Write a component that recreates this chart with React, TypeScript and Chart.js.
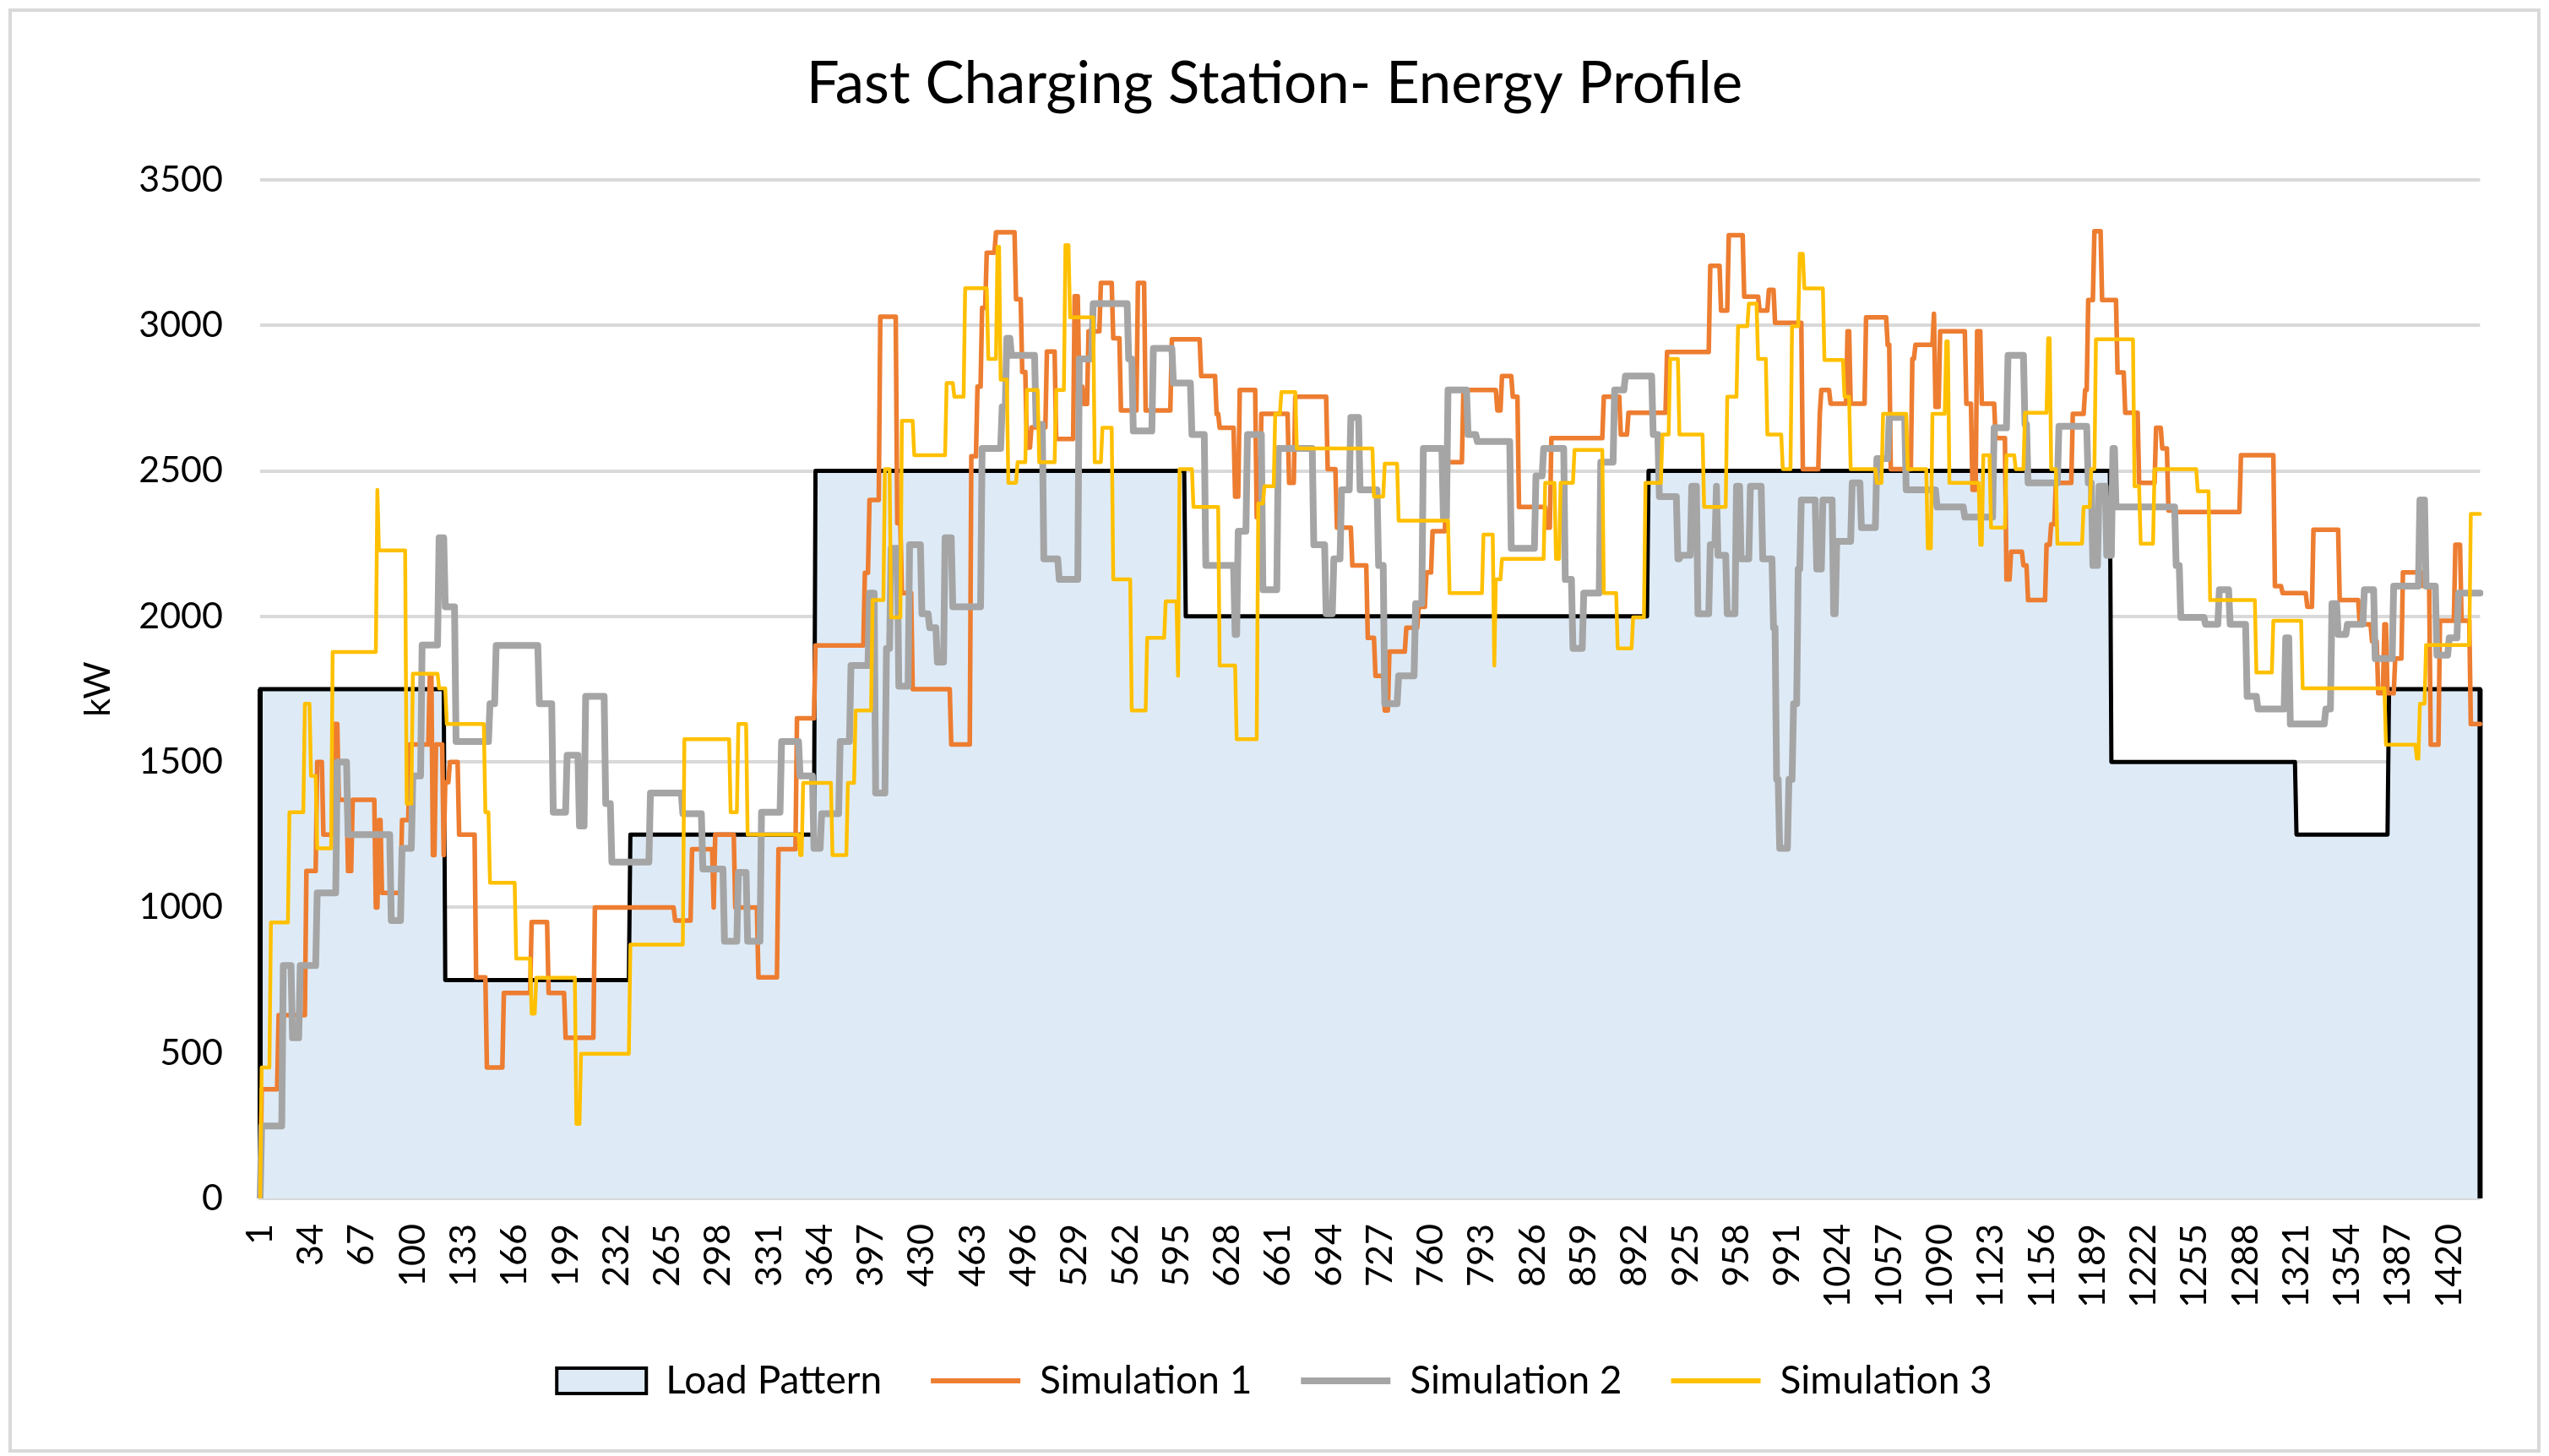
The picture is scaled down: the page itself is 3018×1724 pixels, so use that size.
import { useEffect, useRef } from "react";
import { Chart, registerables } from "chart.js";

Chart.register(...registerables);

const MINUTES = 1440;
const categories: string[] = Array.from({ length: MINUTES }, (_, i) => String(i + 1));
const tickEvery = 33;
const yTicks = { min: 0, max: 3500, step: 500 };

const seriesNames = ["Load Pattern", "Simulation 1", "Simulation 2", "Simulation 3"];

// Each entry: [start minute, kW] — the value holds until the next entry's minute.
const loadPattern: [number, number][] = [
  [1, 1750], [121, 750], [241, 1250], [361, 2500], [601, 2000], [901, 2500], [1201, 1500], [1321, 1250], [1381, 1750],
];

const simulation1: [number, number][] = [
  [1, 0], [2, 375], [13, 630], [31, 1125], [38, 1500], [42, 1250], [49, 1630], [52, 1370], [58, 1125], [61, 1370],
  [76, 1000], [78, 1300], [80, 1050], [93, 1300], [98, 1560], [111, 1800], [113, 1180], [115, 1560], [120, 1180],
  [121, 1430], [124, 1500], [130, 1250], [141, 760], [148, 450], [159, 706], [177, 950], [188, 706], [199, 552],
  [218, 1000], [270, 955], [281, 1200], [295, 1000], [296, 1250], [309, 1000], [324, 760], [337, 1200], [349, 1650],
  [361, 1900], [393, 2150], [396, 2400], [403, 3030], [414, 2320], [417, 2080], [424, 1750], [449, 1560], [462, 2550],
  [466, 2790], [469, 3060], [472, 3250], [478, 3320], [491, 3090], [495, 2840], [498, 2580], [501, 2650], [511, 2910],
  [517, 2610], [529, 3100], [532, 2790], [535, 2730], [538, 2980], [546, 3146], [554, 2956], [559, 2708], [570, 3146],
  [575, 2708], [592, 2952], [611, 2826], [621, 2696], [623, 2648], [633, 2412], [636, 2778], [647, 2341], [650, 2696],
  [668, 2459], [672, 2755], [693, 2506], [699, 2305], [709, 2175], [719, 1926], [724, 1796], [730, 1677], [733, 1879],
  [744, 1961], [752, 2033], [757, 2151], [761, 2293], [770, 2530], [781, 2778], [803, 2708], [806, 2826], [813, 2755],
  [817, 2376], [835, 2305], [838, 2613], [872, 2755], [883, 2625], [888, 2700], [913, 2909], [941, 3205], [948, 3051],
  [953, 3310], [963, 3099], [973, 3051], [979, 3122], [983, 3009], [1001, 2506], [1012, 2696], [1013, 2778],
  [1019, 2731], [1030, 2980], [1032, 2731], [1042, 3028], [1056, 2933], [1058, 2506], [1072, 2885], [1074, 2933],
  [1086, 3040], [1087, 2720], [1090, 2980], [1107, 2731], [1111, 2435], [1114, 2980], [1117, 2731], [1126, 2613],
  [1133, 2127], [1136, 2222], [1144, 2175], [1147, 2056], [1159, 2246], [1162, 2317], [1165, 2459], [1176, 2696],
  [1184, 2778], [1186, 3087], [1190, 3324], [1195, 3087], [1205, 2838], [1210, 2700], [1219, 2459], [1230, 2648],
  [1234, 2577], [1238, 2364], [1242, 2359], [1285, 2554], [1307, 2104], [1312, 2080], [1328, 2033], [1332, 2298],
  [1349, 2056], [1362, 1973], [1370, 1914], [1374, 1736], [1378, 1973], [1380, 1736], [1385, 1855], [1390, 2151],
  [1403, 2104], [1408, 1559], [1414, 1985], [1424, 2246], [1428, 1985], [1434, 1630],
];

const simulation2: [number, number][] = [
  [1, 0], [2, 249], [16, 800], [22, 552], [27, 800], [38, 1050], [51, 1500], [58, 1250], [86, 955], [93, 1203],
  [100, 1452], [106, 1902], [117, 2270], [121, 2033], [128, 1570], [150, 1700], [154, 1900], [182, 1700], [191, 1327],
  [200, 1523], [208, 1280], [212, 1725], [225, 1357], [229, 1156], [254, 1393], [275, 1322], [288, 1132], [302, 884],
  [311, 1120], [317, 884], [326, 1327], [339, 1570], [351, 1452], [360, 1203], [365, 1322], [377, 1570], [384, 1831],
  [396, 2080], [400, 1393], [407, 1890], [410, 2234], [415, 1760], [422, 2246], [430, 2009], [435, 1961], [440, 1843],
  [445, 2270], [450, 2033], [469, 2577], [482, 2720], [485, 2956], [488, 2897], [504, 2660], [509, 2198], [519, 2127],
  [532, 2885], [541, 3075], [564, 2885], [567, 2637], [580, 2921], [593, 2802], [605, 2625], [614, 2175], [633, 1938],
  [635, 2293], [641, 2625], [651, 2092], [661, 2577], [684, 2246], [692, 2009], [697, 2198], [702, 2435], [708, 2684],
  [714, 2435], [726, 2175], [730, 1700], [739, 1796], [750, 2044], [755, 2577], [768, 2341], [771, 2778], [784, 2625],
  [790, 2601], [812, 2234], [828, 2483], [833, 2577], [847, 2127], [852, 1890], [859, 2080], [870, 2530], [879, 2778],
  [886, 2826], [904, 2625], [908, 2412], [920, 2198], [922, 2210], [929, 2447], [933, 2009], [941, 2246], [945, 2447],
  [946, 2210], [952, 2009], [958, 2447], [961, 2198], [967, 2447], [975, 2198], [982, 1961], [984, 1440], [986, 1203],
  [992, 1440], [995, 1700], [998, 2163], [1000, 2400], [1010, 2163], [1014, 2400], [1021, 2009], [1023, 2258],
  [1033, 2459], [1039, 2305], [1049, 2542], [1057, 2684], [1068, 2435], [1088, 2376], [1106, 2341], [1125, 2648],
  [1134, 2897], [1145, 2660], [1147, 2459], [1167, 2653], [1186, 2459], [1189, 2175], [1193, 2447], [1198, 2210],
  [1202, 2577], [1204, 2376], [1243, 2175], [1246, 1997], [1262, 1973], [1271, 2092], [1278, 1973], [1289, 1725],
  [1296, 1682], [1314, 1926], [1317, 1630], [1340, 1682], [1344, 2044], [1348, 1938], [1354, 1973], [1365, 2092],
  [1372, 1855], [1384, 2104], [1401, 2400], [1405, 2104], [1412, 1867], [1420, 1926], [1426, 2080],
];

const simulation3: [number, number][] = [
  [1, 0], [2, 450], [8, 948], [20, 1327], [30, 1700], [34, 1452], [38, 1203], [48, 1878], [77, 2435], [78, 2227],
  [96, 1357], [100, 1803], [117, 1753], [122, 1630], [147, 1327], [150, 1085], [167, 824], [177, 635], [180, 758],
  [206, 256], [209, 497], [241, 872], [276, 1578], [306, 1327], [311, 1630], [317, 1250], [351, 1180], [353, 1428],
  [372, 1180], [382, 1428], [387, 1677], [398, 2056], [406, 2506], [410, 1997], [417, 2672], [425, 2554], [446, 2802],
  [451, 2755], [458, 3128], [473, 2885], [479, 3270], [481, 2814], [486, 2459], [492, 2530], [498, 2778], [506, 2530],
  [517, 2778], [523, 3276], [526, 3028], [542, 2530], [547, 2648], [554, 2127], [566, 1677], [576, 1926], [588, 2052],
  [596, 1796], [597, 2506], [606, 2376], [623, 1831], [634, 1578], [648, 2388], [652, 2447], [659, 2696], [663, 2771],
  [673, 2577], [723, 2412], [730, 2525], [739, 2329], [772, 2080], [794, 2281], [801, 1831], [802, 2127], [806, 2198],
  [834, 2459], [841, 2198], [844, 2459], [853, 2572], [872, 2080], [881, 1890], [891, 1997], [899, 2459], [910, 2625],
  [915, 2885], [921, 2625], [937, 2376], [952, 2755], [959, 2997], [966, 3075], [972, 2885], [978, 2625], [988, 2506],
  [994, 2997], [999, 3246], [1002, 3127], [1015, 2881], [1028, 2755], [1032, 2506], [1049, 2459], [1053, 2696],
  [1069, 2506], [1082, 2234], [1085, 2696], [1094, 2945], [1096, 2459], [1116, 2246], [1118, 2554], [1123, 2305],
  [1133, 2554], [1139, 2506], [1145, 2700], [1160, 2956], [1162, 2506], [1166, 2250], [1183, 2376], [1188, 2506],
  [1191, 2952], [1216, 2447], [1220, 2250], [1229, 2506], [1257, 2430], [1265, 2056], [1295, 1807], [1306, 1985],
  [1325, 1753], [1379, 1559], [1399, 1511], [1401, 1700], [1405, 1902], [1434, 2352],
];

function hold(segments: [number, number][]): number[] {
  const out: number[] = [];
  let k = 0;
  for (let m = 1; m <= MINUTES; m++) {
    while (k + 1 < segments.length && segments[k + 1][0] <= m) k++;
    out.push(segments[k][1]);
  }
  return out;
}

const FONT = "Lato, 'Open Sans', sans-serif";
const COLORS = { load: "#000000", loadFill: "#DEEBF7", s1: "#ED7D31", s2: "#A5A5A5", s3: "#FFC000", grid: "#D9D9D9" };
const LEGEND_LINE_WIDTHS = [4, 6, 8, 6];

const areaEdges = {
  id: "areaEdges",
  afterDatasetDraw(chart: any, args: any) {
    if (args.index !== 0) return;
    const pts = args.meta.data;
    if (!pts.length) return;
    const y0 = chart.scales.y.getPixelForValue(0);
    const ctx = chart.ctx;
    ctx.save();
    ctx.strokeStyle = COLORS.load;
    ctx.lineWidth = 6;
    ctx.beginPath();
    const first = pts[0];
    const last = pts[pts.length - 1];
    ctx.moveTo(first.x, first.y);
    ctx.lineTo(first.x, y0);
    ctx.moveTo(last.x, last.y);
    ctx.lineTo(last.x, y0);
    ctx.stroke();
    ctx.restore();
  },
};

export default function App() {
  const ref = useRef<HTMLCanvasElement | null>(null);

  useEffect(() => {
    if (!ref.current) return;
    const chart = new Chart(ref.current, {
      type: "line",
      data: {
        labels: categories,
        datasets: [
          {
            label: seriesNames[0],
            data: hold(loadPattern),
            borderColor: COLORS.load,
            backgroundColor: COLORS.loadFill,
            borderWidth: 5,
            fill: "origin",
            pointRadius: 0,
            order: 4,
          },
          {
            label: seriesNames[1],
            data: hold(simulation1),
            borderColor: COLORS.s1,
            backgroundColor: COLORS.s1,
            borderWidth: 5.5,
            fill: false,
            pointRadius: 0,
            order: 3,
          },
          {
            label: seriesNames[2],
            data: hold(simulation2),
            borderColor: COLORS.s2,
            backgroundColor: COLORS.s2,
            borderWidth: 8,
            fill: false,
            pointRadius: 0,
            order: 2,
          },
          {
            label: seriesNames[3],
            data: hold(simulation3),
            borderColor: COLORS.s3,
            backgroundColor: COLORS.s3,
            borderWidth: 4.5,
            fill: false,
            pointRadius: 0,
            order: 1,
          },
        ],
      },
      options: {
        animation: false,
        responsive: false,
        devicePixelRatio: 1,
        elements: { line: { tension: 0, borderJoinStyle: "round", borderCapStyle: "round" } },
        layout: { padding: { left: 0, right: 0, top: 0, bottom: 56 } },
        plugins: {
          tooltip: { enabled: false },
          title: {
            display: true,
            text: "Fast Charging Station- Energy Profile",
            color: "#000",
            font: { family: FONT, size: 69, weight: "normal" },
            padding: { top: 58.6, bottom: 71.6 },
          },
          legend: {
            position: "bottom",
            labels: {
              usePointStyle: true,
              pointStyleWidth: 106,
              boxHeight: 30,
              padding: 58,
              color: "#000",
              font: { family: FONT, size: 46 },
              sort: (a: any, b: any) => a.datasetIndex - b.datasetIndex,
              generateLabels: (c: any) => {
                const base = (Chart.defaults as any).plugins.legend.labels.generateLabels(c);
                return base.map((it: any) => {
                  const ds = c.data.datasets[it.datasetIndex];
                  if (it.datasetIndex === 0) {
                    return { ...it, pointStyle: "rect", fillStyle: COLORS.loadFill, strokeStyle: COLORS.load, lineWidth: LEGEND_LINE_WIDTHS[0] };
                  }
                  return { ...it, pointStyle: "line", strokeStyle: ds.borderColor, lineWidth: LEGEND_LINE_WIDTHS[it.datasetIndex] };
                });
              },
            },
          },
        },
        scales: {
          x: {
            type: "category",
            grid: { display: false, drawTicks: false },
            border: { display: true, color: COLORS.grid, width: 4 },
            ticks: {
              autoSkip: false,
              minRotation: 90,
              maxRotation: 90,
              padding: 30,
              color: "#000",
              font: { family: FONT, size: 43 },
              callback: (_v: any, i: number) => (i % tickEvery === 0 ? categories[i] : ""),
            },
            afterFit: (s: any) => {
              s.height = 135;
            },
          },
          y: {
            min: yTicks.min,
            max: yTicks.max,
            ticks: {
              stepSize: yTicks.step,
              padding: 44,
              color: "#000",
              font: { family: FONT, size: 43 },
              callback: (v: any) => String(v),
            },
            grid: { color: COLORS.grid, lineWidth: 4, drawTicks: false },
            border: { display: false },
            title: {
              display: true,
              text: "kW",
              color: "#000",
              font: { family: FONT, size: 43 },
              padding: { top: 90, bottom: 0 },
            },
            afterFit: (s: any) => {
              s.width = 308;
            },
          },
          // empty right-hand margin so the title and legend are centred on the whole chart
          rightMargin: {
            type: "linear",
            position: "right",
            display: true,
            grid: { display: false, drawTicks: false },
            border: { display: false },
            ticks: { display: false },
            afterFit: (s: any) => {
              s.width = 73;
            },
          },
        },
      },
      plugins: [areaEdges],
    });
    return () => chart.destroy();
  }, []);

  return (
    <div style={{ position: "fixed", left: 0, top: 0, width: 3018, height: 1724, background: "#fff" }}>
      <canvas ref={ref} width={3018} height={1724} style={{ width: 3018, height: 1724, display: "block" }} />
      <div
        style={{
          position: "absolute",
          left: 10,
          top: 10,
          width: 2998,
          height: 1710,
          border: "4px solid #D9D9D9",
          boxSizing: "border-box",
          pointerEvents: "none",
        }}
      />
    </div>
  );
}
